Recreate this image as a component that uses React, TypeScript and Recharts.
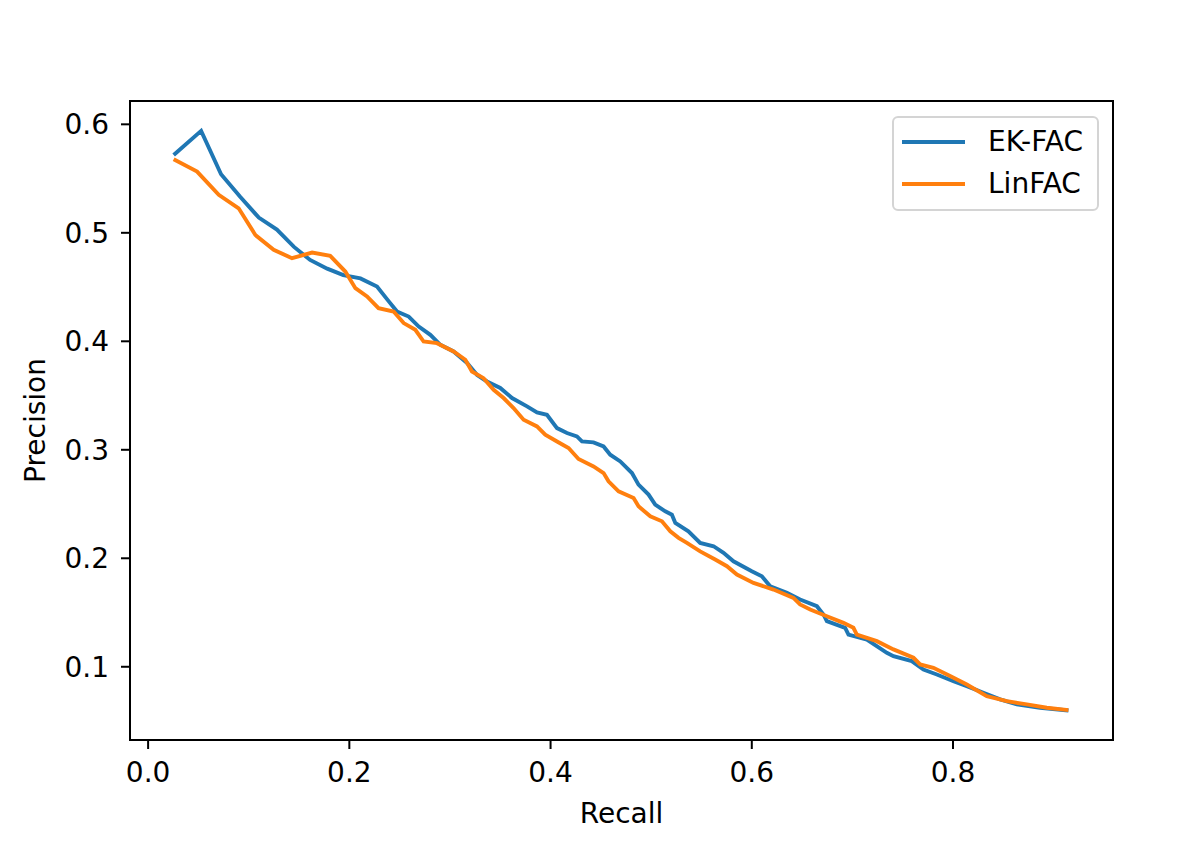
import { Legend, Line, LineChart, ReferenceArea, XAxis, YAxis } from 'recharts'

// EK-FAC precision / recall curve
const ekRecall = [
  0.0254, 0.0527, 0.0725, 0.0917, 0.11, 0.128, 0.145, 0.161, 0.178, 0.194, 0.211, 0.2275, 0.239, 0.2474,
  0.259, 0.269, 0.2805, 0.2904, 0.3036, 0.317, 0.327, 0.3368, 0.35, 0.3617, 0.3766, 0.3865, 0.3964, 0.4064,
  0.4163, 0.4262, 0.4312, 0.4427, 0.4527, 0.4593, 0.4693, 0.4809, 0.4874, 0.4974, 0.504, 0.514, 0.5206, 0.524,
  0.537, 0.5487, 0.562, 0.5719, 0.5818, 0.6, 0.61, 0.6183, 0.6349, 0.648, 0.6647, 0.6712, 0.6746, 0.6928,
  0.6961, 0.7144, 0.7342, 0.7408, 0.759, 0.7706, 0.7839, 0.8004, 0.8137, 0.8302, 0.8468, 0.8634, 0.8865, 0.9147,
]
const ekPrecision = [
  0.5717, 0.594, 0.554, 0.533, 0.514, 0.503, 0.487, 0.475, 0.467, 0.461, 0.458, 0.4505, 0.437, 0.4274,
  0.4228, 0.4136, 0.406, 0.3968, 0.3906, 0.38, 0.369, 0.363, 0.357, 0.3477, 0.34, 0.3344, 0.3323, 0.32,
  0.3155, 0.3123, 0.3077, 0.3068, 0.3031, 0.2955, 0.2893, 0.2786, 0.2679, 0.2587, 0.2494, 0.2433, 0.2402, 0.2326,
  0.2249, 0.2142, 0.2111, 0.205, 0.1972, 0.188, 0.1834, 0.1742, 0.1681, 0.162, 0.1558, 0.1482, 0.142, 0.1359,
  0.1297, 0.1251, 0.1129, 0.1098, 0.1052, 0.0975, 0.0929, 0.0867, 0.0821, 0.076, 0.0699, 0.0653, 0.0622, 0.0597,
]

// LinFAC precision / recall curve
const linRecall = [
  0.0254, 0.0487, 0.0702, 0.09, 0.1066, 0.1248, 0.143, 0.163, 0.181, 0.196, 0.206, 0.2176, 0.229, 0.244,
  0.254, 0.2656, 0.2738, 0.2871, 0.3036, 0.3153, 0.3219, 0.3334, 0.3434, 0.3533, 0.3632, 0.3732, 0.3865, 0.3947,
  0.4064, 0.4179, 0.4278, 0.4427, 0.4527, 0.4576, 0.4676, 0.4825, 0.4874, 0.4991, 0.5107, 0.519, 0.5272, 0.5355,
  0.5487, 0.5636, 0.5753, 0.5852, 0.6017, 0.6216, 0.6414, 0.648, 0.658, 0.6746, 0.6911, 0.701, 0.7044, 0.7243,
  0.7408, 0.7607, 0.7673, 0.7805, 0.7971, 0.8137, 0.8336, 0.8535, 0.8733, 0.8932, 0.9147,
]
const linPrecision = [
  0.5678, 0.5564, 0.535, 0.5226, 0.498, 0.4843, 0.4766, 0.4818, 0.4787, 0.4643, 0.449, 0.4413, 0.4306, 0.4274,
  0.4168, 0.4106, 0.3998, 0.3983, 0.3906, 0.383, 0.3722, 0.366, 0.3553, 0.3477, 0.3385, 0.3277, 0.3215, 0.3139,
  0.3077, 0.3017, 0.2915, 0.2847, 0.2786, 0.2709, 0.2617, 0.2556, 0.2479, 0.2387, 0.2341, 0.2249, 0.2188, 0.2142,
  0.2064, 0.1988, 0.1927, 0.185, 0.1773, 0.1712, 0.1635, 0.1574, 0.1528, 0.1466, 0.1405, 0.1359, 0.1297, 0.1236,
  0.116, 0.1083, 0.1021, 0.099, 0.0914, 0.0837, 0.0729, 0.0683, 0.0653, 0.0622, 0.06,
]

const xTicks = [0, 0.2, 0.4, 0.6, 0.8]
const yTicks = [0.1, 0.2, 0.3, 0.4, 0.5, 0.6]
const xDomain: [number, number] = [-0.018, 0.959]
const yDomain: [number, number] = [0.0325, 0.6215]

const series = [
  { name: 'EK-FAC', color: '#1f77b4', recall: ekRecall, precision: ekPrecision },
  { name: 'LinFAC', color: '#ff7f0e', recall: linRecall, precision: linPrecision },
]

const FONT = '"DejaVu Sans", sans-serif'
const FS = 28

function toRows(recall: number[], precision: number[]) {
  return recall.map((r, i) => ({ recall: r, precision: precision[i] }))
}

function LegendBox() {
  return (
    <div
      style={{
        boxSizing: 'border-box',
        width: 207,
        height: 95,
        border: '2px solid #d4d4d4',
        borderRadius: 6,
        background: 'rgba(255,255,255,0.8)',
        position: 'relative',
        fontFamily: FONT,
        fontSize: FS,
      }}
    >
      {series.map((s, i) => (
        <div key={s.name} style={{ position: 'absolute', left: 8, top: 6 + i * 42, height: 36, display: 'flex', alignItems: 'center' }}>
          <div style={{ width: 63, height: 4, background: s.color }} />
          <span style={{ marginLeft: 23, color: '#000', lineHeight: 1 }}>{s.name}</span>
        </div>
      ))}
    </div>
  )
}

function YLabel({ viewBox }: any) {
  const cx = viewBox.x + 25
  const cy = viewBox.y + viewBox.height / 2
  return (
    <text x={cx} y={cy} transform={`rotate(-90, ${cx}, ${cy})`} textAnchor="middle" fontFamily={FONT} fontSize={FS} fill="#000">
      Precision
    </text>
  )
}

export default function App() {
  const tick = { fill: '#000', fontFamily: FONT, fontSize: FS }
  return (
    <div style={{ position: 'absolute', left: 0, top: 0, width: 1196, height: 846, background: '#fff' }}>
      <LineChart width={1196} height={846} margin={{ top: 101, right: 83, bottom: 16, left: 20 }}>
        <XAxis
          type="number"
          dataKey="recall"
          domain={xDomain}
          ticks={xTicks}
          allowDataOverflow
          tickFormatter={(v: number) => v.toFixed(1)}
          tick={tick}
          tickSize={9}
          tickMargin={13}
          height={90}
          stroke="#000"
          strokeWidth={2}
          label={{ value: 'Recall', position: 'insideBottom', offset: 7, fill: '#000', fontFamily: FONT, fontSize: FS }}
        />
        <YAxis
          type="number"
          dataKey="precision"
          domain={yDomain}
          ticks={yTicks}
          allowDataOverflow
          tickFormatter={(v: number) => v.toFixed(1)}
          tick={tick}
          tickSize={9}
          tickMargin={12}
          width={110}
          stroke="#000"
          strokeWidth={2}
          label={<YLabel />}
        />
        <ReferenceArea x1={xDomain[0]} x2={xDomain[1]} y1={yDomain[0]} y2={yDomain[1]} fill="none" stroke="#000" strokeWidth={2} />
        {series.map((s) => (
          <Line
            key={s.name}
            data={toRows(s.recall, s.precision)}
            dataKey="precision"
            name={s.name}
            type="linear"
            stroke={s.color}
            strokeWidth={3.9}
            dot={false}
            isAnimationActive={false}
          />
        ))}
        <Legend
          layout="vertical"
          align="center"
          verticalAlign="middle"
          content={() => <LegendBox />}
          wrapperStyle={{ left: 892, top: 116, width: 207 }}
        />
      </LineChart>
    </div>
  )
}
